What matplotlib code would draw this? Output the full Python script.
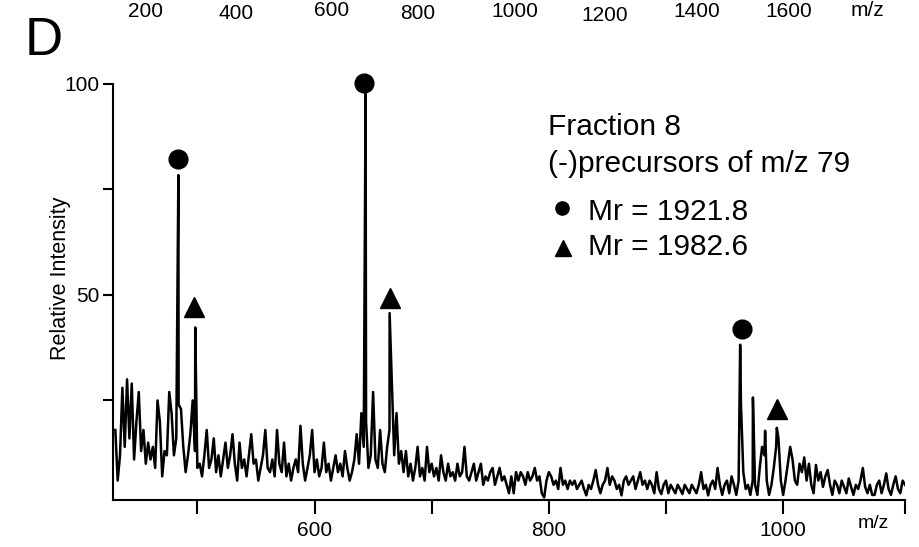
import numpy as np
import matplotlib
matplotlib.use('Agg')
import matplotlib.pyplot as plt

plt.rcParams['font.family'] = ['Liberation Sans', 'DejaVu Sans']

# ---- spectrum noise, sampled every 2 m/z units, one list per segment ----
seg_starts = [430, 502, 602, 702, 802, 962]

noise_430 = [18, 6, 12, 28, 14, 30, 16, 29, 11, 20, 27, 13, 18, 10, 15, 11, 14, 9,
             25, 20, 7, 13, 12, 27, 22, 12, 16, 24, 23, 14, 8, 12, 17, 25, 13, 9]
noise_502 = [10, 7, 12, 18, 9, 11, 16, 8, 12, 7, 11, 15, 9, 12, 17, 10, 6, 15, 9, 11,
             7, 12, 17, 10, 11, 6, 9, 12, 18, 9, 8, 11, 7, 18, 10, 8, 15, 7, 10, 6,
             9, 11, 8, 19, 10, 6, 9, 12, 18, 8]
noise_602 = [11, 7, 9, 15, 8, 10, 6, 9, 12, 8, 10, 7, 13, 9, 6, 8, 11, 17, 10, 22,
             14, 20, 9, 12, 27, 11, 9, 18, 10, 8, 14, 18, 29, 12, 22, 10, 13, 8, 13, 7,
             10, 6, 9, 14, 7, 9, 6, 14, 8, 10]
noise_702 = [7, 9, 6, 12, 8, 6, 10, 7, 8, 6, 10, 7, 8, 14, 7, 6, 8, 10, 6, 8,
             10, 5, 7, 6, 8, 9, 5, 7, 9, 6, 7, 5, 3, 7, 3, 8, 6, 8, 7, 5,
             8, 6, 7, 9, 6, 7, 3, 2, 6, 8]
noise_802 = [7, 5, 6, 4, 9, 5, 6, 4, 6, 5, 6, 4, 5, 6, 4, 2.5, 5, 4, 6, 8.5,
             5, 3, 5, 6, 9, 5, 7, 6, 4, 5, 2.5, 6, 7, 5, 6, 7, 4, 6, 8, 5,
             6, 4, 6, 5, 3, 8, 4, 2.8, 5, 6, 3, 5, 4, 3, 5, 4, 2.8, 5, 4, 3,
             5, 4, 3, 5, 8, 4, 5, 2.5, 5, 6, 4, 9, 5, 2.6, 5, 6, 3, 7, 5, 2.6]
noise_962 = [6, 24, 8, 4, 5, 2.6, 6, 5, 2.6, 9, 14, 12, 6, 2.6, 5, 9, 14, 16, 6, 2.6,
             6, 10, 14, 11, 6, 5, 10, 8, 11.5, 6, 10, 5, 3, 9.7, 6, 8, 4.5, 7, 8.5, 5,
             2.6, 6, 5, 3, 6, 4.5, 3, 6.5, 4.5, 2.6, 5, 4, 6, 9, 4.5, 3, 5, 2.6, 2.6, 5,
             6, 3, 5, 7.7, 4, 2.6, 5, 7, 4, 3, 6, 5]
segments = [noise_430, noise_502, noise_602, noise_702, noise_802, noise_962]

# ---- main peaks ----
peak_mz = [483.8, 498.2, 643.6, 664.1, 963.3, 974.2, 984.6, 994.6]
peak_int = [78.4, 42.3, 97.8, 45.7, 38.2, 25.7, 17.8, 18.5]

# ---- peak labels ----
circle_mz = [483.8, 642.6, 964.7]
circle_y = [82.2, 100.3, 41.9]
tri_mz = [497.0, 664.2, 994.6]
tri_y = [47.2, 49.2, 22.9]

# ---- cut-off axis labels of the panel above ----
top_labels = ['200', '400', '600', '800', '1000', '1200', '1400', '1600', 'm/z']
top_x = [146, 236, 332, 418, 515, 605, 697, 789, 867]
top_base = [17, 19, 16, 19, 17, 21, 17, 17, 16]

mz = np.concatenate([s + 2 * np.arange(len(v)) for s, v in zip(seg_starts, segments)])
inten = np.concatenate([np.array(v, dtype=float) for v in segments])
mz = np.concatenate([mz, peak_mz])
inten = np.concatenate([inten, peak_int])
order = np.argsort(mz, kind='stable')
mz, inten = mz[order], inten[order]

W, H = 920, 547
fig = plt.figure(figsize=(W / 100, H / 100), dpi=100)
ax = fig.add_axes([113 / W, 1 - 500 / H, 792 / W, 416 / H])

ax.plot(mz, inten, color='black', lw=1.8)
ax.plot(circle_mz, circle_y, 'o', color='black', ms=13.5, clip_on=False)
ax.plot(tri_mz, tri_y, '^', color='black', ms=14, clip_on=False)

ax.set_xlim(428, 1104)
ax.set_ylim(1.4, 100)
ax.spines['top'].set_visible(False)
ax.spines['right'].set_visible(False)
for s in ['left', 'bottom']:
    ax.spines[s].set_linewidth(1.5)

ax.set_xticks([500, 600, 700, 800, 900, 1000, 1104])
ax.set_xticklabels(['', '600', '', '800', '', '1000', ''])
ax.set_yticks([25, 50, 75, 100])
ax.set_yticklabels(['', '50', '', '100'])
ax.tick_params(axis='x', direction='out', length=10, width=1.5, labelsize=15, pad=5)
ax.tick_params(axis='y', direction='out', length=7, width=1.5, labelsize=15, pad=3)

ax.set_ylabel('Relative Intensity', fontsize=15.5)
ax.yaxis.set_label_coords((61 - 113) / 792, (500 - 278) / 416)
ax.yaxis.label.set_va('center')
ax.set_xlabel('m/z', fontsize=14)
ax.xaxis.set_label_coords((873 - 113) / 792, (500 - 523) / 416)
ax.xaxis.label.set_va('center')

# legend-like annotation
fig.text(548 / W, 1 - 135 / H, 'Fraction 8', fontsize=21.5, va='baseline')
fig.text(548 / W, 1 - 172 / H, '(-)precursors of m/z 79', fontsize=21.5, va='baseline')
fig.text(588 / W, 1 - 220 / H, 'Mr = 1921.8', fontsize=21.5, va='baseline')
fig.text(588 / W, 1 - 255 / H, 'Mr = 1982.6', fontsize=21.5, va='baseline')
ax.plot([562 / W], [1 - 208 / H], 'o', color='black', ms=9.5,
        transform=fig.transFigure, clip_on=False)
ax.plot([563 / W], [1 - 248 / H], '^', color='black', ms=12,
        transform=fig.transFigure, clip_on=False)

# panel letter and remnants of the panel above
fig.text(25 / W, 1 - 55 / H, 'D', fontsize=38, va='baseline')
for lab, x, b in zip(top_labels, top_x, top_base):
    fig.text(x / W, 1 - b / H, lab, fontsize=15, ha='center', va='baseline')

fig.savefig('out.png', dpi=100)
